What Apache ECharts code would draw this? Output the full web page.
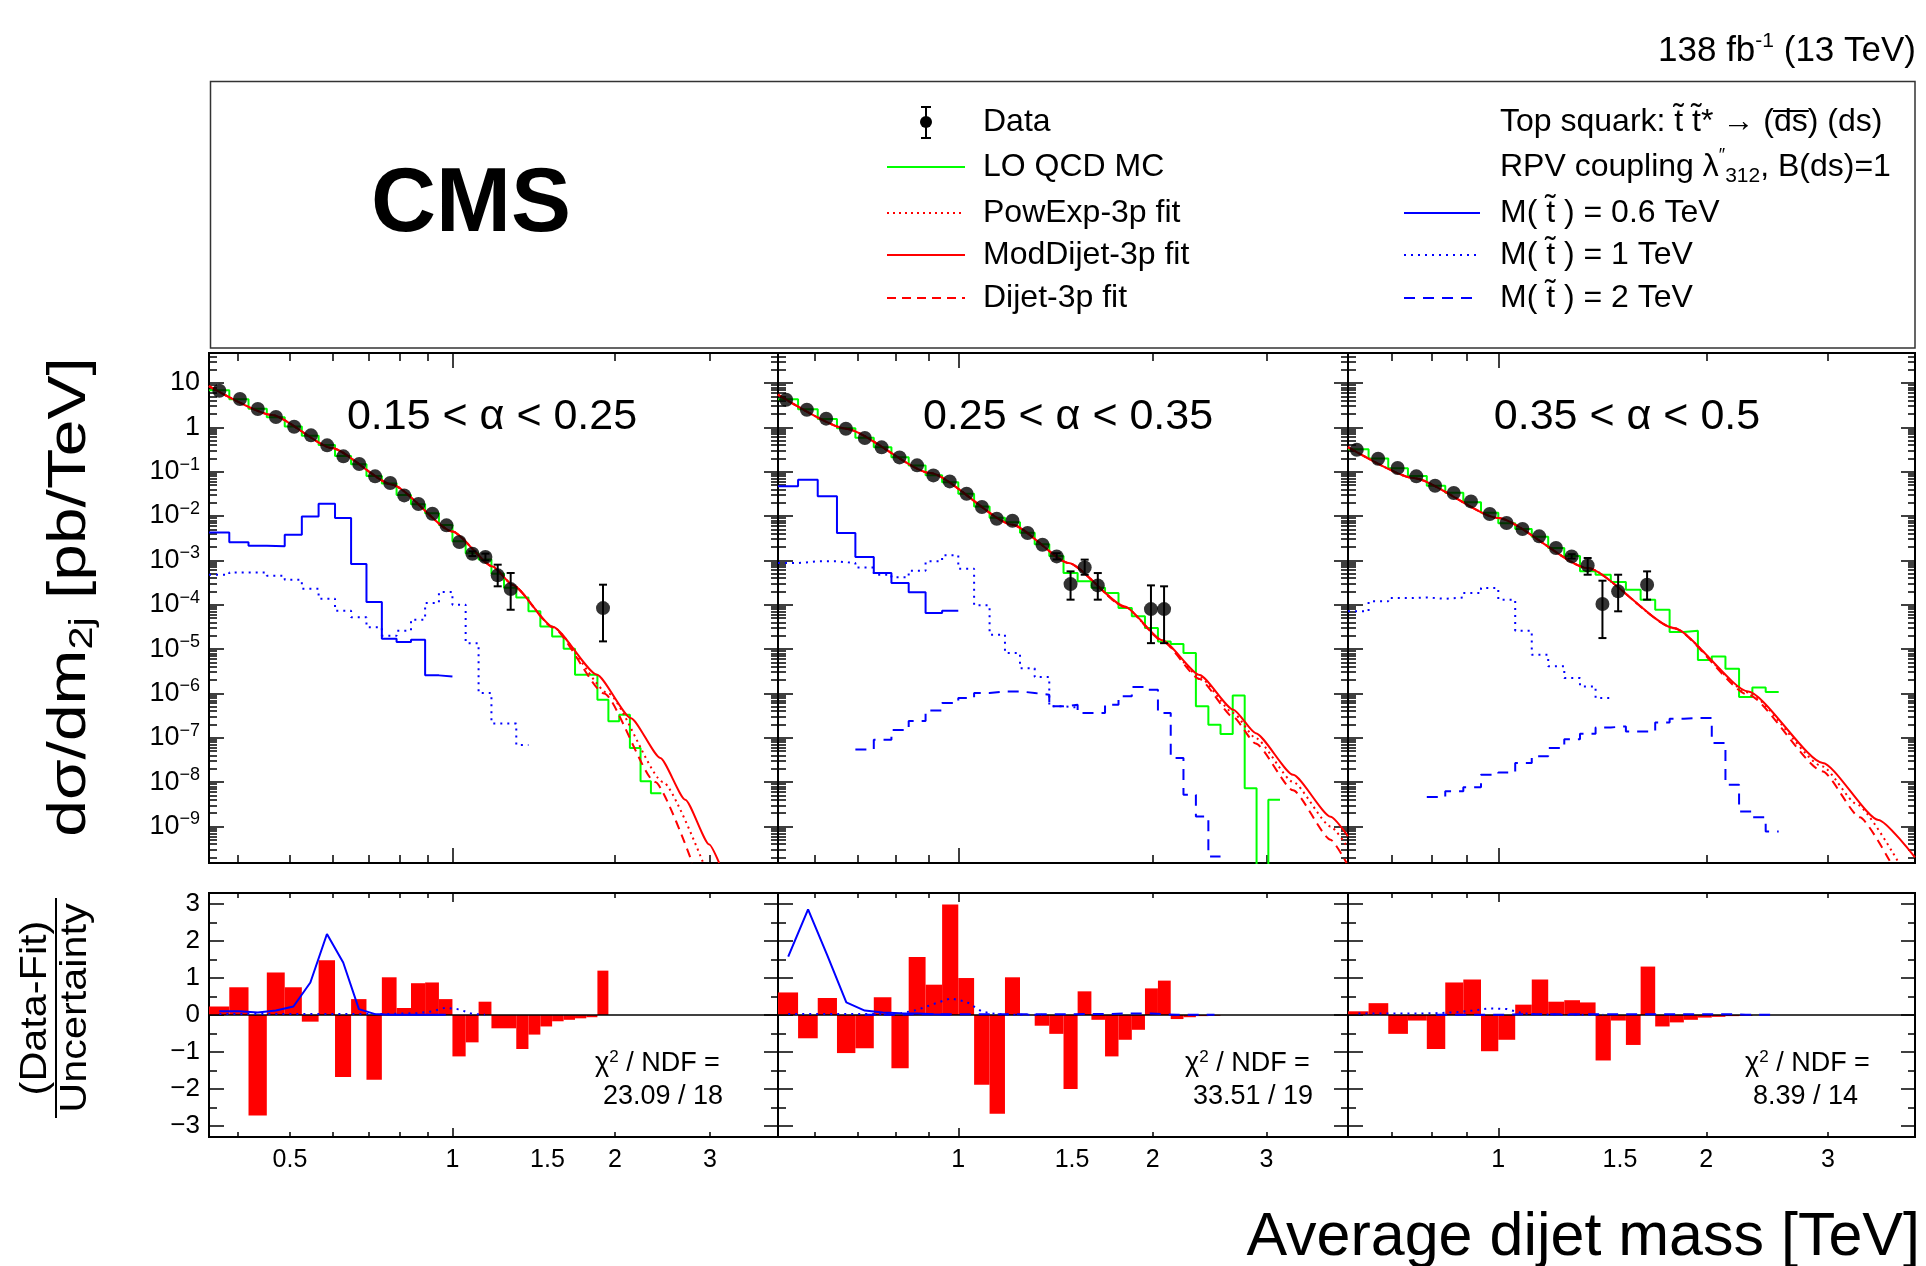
<!DOCTYPE html>
<html>
<head>
<meta charset="utf-8">
<script src="https://cdn.jsdelivr.net/npm/echarts@6/dist/echarts.min.js"></script>
<style>
  html, body { margin: 0; padding: 0; background: #fff; }
  #chart { width: 1926px; height: 1266px; }
</style>
</head>
<body>
<div id="chart"></div>
<script>
// ---------------- values ----------------
// dijet mass bin edges [TeV]
const binEdges = [0.354, 0.386, 0.419, 0.453, 0.489, 0.526, 0.565, 0.606, 0.649, 0.693,
  0.740, 0.788, 0.838, 0.890, 0.944, 1.000, 1.058, 1.118, 1.181, 1.246,
  1.313, 1.383, 1.455, 1.530, 1.607, 1.687, 1.770, 1.856, 1.945, 2.037,
  2.132, 2.231, 2.332, 2.438, 2.546, 2.659, 2.775, 2.895, 3.019, 3.147,
  3.279, 3.416, 3.558, 3.704, 3.854, 4.010];
const panelFirstBin = [0, 5, 7];
const panelTitles = ['0.15 < α < 0.25', '0.25 < α < 0.35', '0.35 < α < 0.5'];
const chi2Ndf = ['23.09 / 18', '33.51 / 19', '8.39 / 14'];

const xMajorTicks = [1];
const xMinorTicks = [0.4, 0.5, 0.6, 0.7, 0.8, 0.9, 2, 3, 4];
const xTickLabels = [0.5, 1, 1.5, 2, 3];
const yDecades = [-9, -8, -7, -6, -5, -4, -3, -2, -1, 0, 1];
const yMinorSteps = [2, 3, 4, 5, 6, 7, 8, 9];
const pullTicks = [-3, -2, -1, 0, 1, 2, 3];
const pullMinorTicks = [-2.5, -1.5, -0.5, 0.5, 1.5, 2.5];

// panel 1 : 0.15 < alpha < 0.25
const dataM1 = [0.370, 0.404, 0.436, 0.471, 0.509, 0.547, 0.586, 0.628, 0.672, 0.719, 0.767, 0.814, 0.865, 0.918, 0.975, 1.030, 1.089, 1.151, 1.213, 1.282, 1.901];
const dataY1 = [6.7, 4.36, 2.59, 1.71, 1.035, 0.66, 0.393, 0.222, 0.149, 0.0785, 0.0555, 0.0292, 0.0187, 0.0113, 0.00616, 0.0026, 0.00141, 0.00119, 4.6e-4, 2.25e-4, 8.4e-5];
const dataLo1 = [null, null, null, null, null, null, null, null, null, null, null, null, null, null, null, null, 1.25e-3, 1.0e-3, 2.6e-4, 7.7e-5, 1.49e-5];
const dataHi1 = [null, null, null, null, null, null, null, null, null, null, null, null, null, null, null, null, 1.6e-3, 1.42e-3, 8.0e-4, 5.2e-4, 2.83e-4];
const qcd1 = [6.9, 4.3, 2.62, 1.7, 1.05, 0.65, 0.40, 0.226, 0.147, 0.080, 0.054, 0.0298, 0.0185, 0.0115, 0.0063, 0.0027, 0.00145, 0.00105, 5.0e-4, 2.4e-4,
  1.46e-4, 7.1e-5, 3.24e-5, 1.93e-5, 1.02e-5, 2.64e-6, 2.64e-6, 7.2e-7, 2.34e-7, 3.3e-7, 5.9e-8, 1.04e-8, 5.6e-9];
const sig06_1 = [4.28e-3, 2.55e-3, 2.14e-3, 2.07e-3, 3.79e-3, 9.8e-3, 0.019, 9.0e-3, 8.3e-4, 1.15e-4, 1.71e-5, 1.44e-5, 1.63e-5, 2.55e-6, 2.42e-6];
const sig1_1 = [4.75e-4, 5.36e-4, 5.36e-4, 4.5e-4, 3.66e-4, 2.3e-4, 1.37e-4, 7.3e-5, 5.2e-5, 3.1e-5, 2.0e-5, 2.6e-5, 4.6e-5, 1.09e-4, 1.93e-4, 1.0e-4, 1.36e-5, 1.02e-6, 2.1e-7, 2.1e-7, 6.9e-8];
const modM1 = [0.354, 0.463, 0.598, 0.773, 1.0, 1.187, 1.293, 1.534, 1.852, 2.142, 2.427, 2.70, 2.991, 3.12];
const modY1 = [8.5, 1.9, 0.342, 0.051, 4.5e-3, 7.3e-4, 2.8e-4, 3.2e-5, 2.64e-6, 2.75e-7, 3.5e-8, 4.0e-9, 3.9e-10, 1.5e-10];
const powM1 = [0.354, 0.463, 0.598, 0.773, 1.0, 1.187, 1.293, 1.534, 1.943, 2.457, 2.915];
const powY1 = [8.5, 1.9, 0.342, 0.051, 4.5e-3, 7.3e-4, 2.8e-4, 3.15e-5, 1.0e-6, 1.0e-8, 1.5e-10];
const dijM1 = [0.354, 0.463, 0.598, 0.773, 1.0, 1.187, 1.293, 1.534, 1.91, 2.375, 2.783];
const dijY1 = [8.5, 1.9, 0.342, 0.051, 4.5e-3, 7.3e-4, 2.8e-4, 3.1e-5, 1.0e-6, 1.0e-8, 1.5e-10];
const pull1 = [0.23, 0.75, -2.72, 1.15, 0.75, -0.18, 1.48, -1.68, 0.43, -1.75, 1.02, 0.19, 0.86, 0.88, 0.43, -1.12, -0.74, 0.36, -0.36, -0.36,
  -0.92, -0.53, -0.31, -0.17, -0.13, -0.09, -0.06, 1.2];
const pullSig06_1 = [0.1, 0.1, 0.07, 0.12, 0.23, 0.88, 2.19, 1.42, 0.16, 0.03, 0.01, 0.01, 0.01, 0.01, 0.01];
const pullSig1_1 = [0.03, 0.03, 0.03, 0.03, 0.03, 0.03, 0.03, 0.03, 0.03, 0.03, 0.03, 0.04, 0.05, 0.1, 0.2, 0.15, 0.03, 0.01];

// panel 2 : 0.25 < alpha < 0.35
const dataM2 = [0.5415, 0.583, 0.6245, 0.670, 0.7167, 0.761, 0.811, 0.8635, 0.915, 0.970, 1.030, 1.088, 1.147, 1.213, 1.28, 1.35, 1.42, 1.492, 1.569, 1.644, 1.987, 2.082];
const dataY2 = [4.2, 2.5, 1.57, 0.933, 0.574, 0.354, 0.21, 0.139, 0.0826, 0.0605, 0.0319, 0.016, 0.0087, 0.00785, 0.00414, 0.00226, 0.00123, 2.92e-4, 6.95e-4, 2.73e-4, 7.97e-5, 7.97e-5];
const dataLo2 = [null, null, null, null, null, null, null, null, null, null, null, null, null, null, null, null, 1.05e-3, 1.3e-4, 4.75e-4, 1.3e-4, 1.36e-5, 1.36e-5];
const dataHi2 = [null, null, null, null, null, null, null, null, null, null, null, null, null, null, null, null, 1.45e-3, 5.65e-4, 1.04e-3, 5.18e-4, 2.73e-4, 2.6e-4];
const qcd2 = [4.3, 2.55, 1.55, 0.95, 0.58, 0.355, 0.212, 0.138, 0.083, 0.058, 0.032, 0.0165, 0.0092, 0.0072, 0.0042, 0.0023, 0.00125, 5.2e-4, 3.4e-4, 2.4e-4,
  1.83e-4, 8.4e-5, 5.5e-5, 2.98e-5, 1.49e-5, 1.3e-5, 8.1e-6, 5.1e-7, 1.96e-7, 1.21e-7, 9.0e-7, 7.3e-9, 1e-12, 4.0e-9];
const sig06_2 = [0.0467, 0.066, 0.0278, 4.14e-3, 1.19e-3, 5.18e-4, 3.08e-4, 1.9e-4, 6.5e-5, 7.3e-5];
const sig1_2 = [8.7e-4, 9.5e-4, 9.5e-4, 8.7e-4, 6.95e-4, 4.75e-4, 4.14e-4, 5.85e-4, 9.5e-4, 1.3e-3, 6.5e-4, 9.7e-5, 2.1e-5, 8.1e-6, 3.7e-6, 2.33e-6, 5.1e-7, 4.8e-7];
const sig2_2 = [5.4e-8, 9.0e-8, 1.5e-7, 2.4e-7, 4.1e-7, 6.05e-7, 7.85e-7, 1.02e-6, 1.11e-6, 1.11e-6, 1.02e-6, 9.3e-7, 5.1e-7, 5.55e-7, 3.6e-7, 3.6e-7, 5.55e-7, 8.6e-7, 1.39e-6, 1.21e-6, 3.6e-7, 3.5e-8, 5.2e-9, 1.68e-9, 2.1e-10];
const modM2 = [0.526, 0.670, 0.905, 1.213, 1.482, 1.81, 2.069, 2.363, 2.665, 2.886, 3.298, 3.769, 4.01];
const modY2 = [5.45, 0.933, 0.093, 6.4e-3, 8.7e-4, 9.1e-5, 1.58e-5, 2.6e-6, 4.3e-7, 1.27e-7, 1.46e-8, 1.66e-9, 6.0e-10];
const powM2 = [0.526, 0.670, 0.905, 1.213, 1.482, 1.81, 2.069, 2.363, 2.665, 2.886, 3.298, 3.769, 4.01];
const powY2 = [5.45, 0.933, 0.093, 6.4e-3, 8.7e-4, 9.0e-5, 1.55e-5, 2.35e-6, 3.6e-7, 9.8e-8, 1.0e-8, 1.0e-9, 3.3e-10];
const dijM2 = [0.526, 0.670, 0.905, 1.213, 1.482, 1.81, 2.069, 2.363, 2.665, 2.886, 3.298, 3.769, 3.99];
const dijY2 = [5.45, 0.933, 0.093, 6.4e-3, 8.7e-4, 8.9e-5, 1.52e-5, 2.1e-6, 2.9e-7, 7.4e-8, 6.5e-9, 5.0e-10, 1.5e-10];
const pull2 = [0.61, -0.63, 0.46, -1.03, -0.9, 0.48, -1.44, 1.57, 0.82, 2.99, 1.0, -1.89, -2.67, 1.02, 0.0, -0.29, -0.51, -2.0, 0.64, -0.13,
  -1.12, -0.67, -0.4, 0.72, 0.93, -0.11, -0.06, -0.03, -0.02];
const pullSig06_2 = [1.58, 2.86, 1.6, 0.34, 0.12, 0.07, 0.05, 0.04, 0.02, 0.01];
const pullSig1_2 = [0.03, 0.03, 0.03, 0.03, 0.03, 0.03, 0.04, 0.14, 0.3, 0.45, 0.36, 0.09, 0.02, 0.01, 0.01, 0.01];
const pullSig2_2 = [0.01, 0.01, 0.01, 0.02, 0.02, 0.02, 0.02, 0.02, 0.02, 0.02, 0.02, 0.02, 0.02, 0.02, 0.03, 0.03, 0.03, 0.04, 0.04, 0.04, 0.02, 0.01, 0.01, 0.01, 0.01];

// panel 3 : 0.35 < alpha < 0.5
const dataM3 = [0.624, 0.67, 0.715, 0.761, 0.81, 0.862, 0.913, 0.972, 1.028, 1.084, 1.146, 1.212, 1.277, 1.347, 1.415, 1.491, 1.642];
const dataY3 = [0.313, 0.196, 0.121, 0.0785, 0.0483, 0.033, 0.0214, 0.0111, 0.00695, 0.00509, 0.00348, 0.0019, 0.00123, 7.7e-4, 1.04e-4, 2.0e-4, 2.83e-4];
const dataLo3 = [null, null, null, null, null, null, null, null, null, null, null, null, 1.1e-3, 4.75e-4, 1.77e-5, 7.1e-5, 1.3e-4];
const dataHi3 = [null, null, null, null, null, null, null, null, null, null, null, null, 1.38e-3, 1.13e-3, 3.48e-4, 4.75e-4, 5.65e-4];
const qcd3 = [0.32, 0.198, 0.12, 0.08, 0.048, 0.0335, 0.0205, 0.0118, 0.0069, 0.0051, 0.0034, 0.0019, 0.00125,
  5.65e-4, 4.75e-4, 3.25e-4, 2.18e-4, 1.3e-4, 7.7e-5, 2.42e-5, 2.6e-5, 5.7e-6, 6.8e-6, 3.6e-6, 8.3e-7, 1.36e-6, 1.07e-6];
const sig1_3 = [7.1e-5, 1.19e-4, 1.41e-4, 1.46e-4, 1.36e-4, 1.46e-4, 1.83e-4, 2.38e-4, 1.3e-4, 2.6e-5, 7.4e-6, 4.07e-6, 2.22e-6, 1.44e-6, 7.85e-7];
const sig2_3 = [4.6e-9, 6.2e-9, 7.6e-9, 1.46e-8, 1.65e-8, 2.68e-8, 3.8e-8, 5.85e-8, 9.3e-8, 1.23e-7, 1.71e-7, 1.8e-7, 1.39e-7, 1.39e-7, 2.22e-7, 2.68e-7, 2.78e-7, 2.78e-7, 7.6e-8, 8.7e-9, 2.18e-9, 1.6e-9, 7.7e-10];
const modM3 = [0.606, 0.754, 1.0, 1.347, 1.796, 2.30, 2.949, 3.55, 4.01];
const modY3 = [0.36, 0.072, 9.0e-3, 6.7e-4, 2.98e-5, 1.1e-6, 2.7e-8, 1.4e-9, 2.0e-10];
const powM3 = [0.606, 0.754, 1.0, 1.347, 1.796, 2.30, 2.949, 3.3, 3.8];
const powY3 = [0.36, 0.072, 9.0e-3, 6.7e-4, 2.97e-5, 1.05e-6, 2.25e-8, 3.2e-9, 1.5e-10];
const dijM3 = [0.606, 0.754, 1.0, 1.347, 1.796, 2.30, 2.949, 3.337, 3.70];
const dijY3 = [0.36, 0.072, 9.0e-3, 6.7e-4, 2.95e-5, 9.3e-7, 1.74e-8, 1.6e-9, 1.5e-10];
const pull3 = [0.1, 0.32, -0.51, -0.15, -0.92, 0.88, 0.96, -0.98, -0.67, 0.28, 0.96, 0.36, 0.4, 0.34, -1.23, -0.15, -0.81, 1.31, -0.31, -0.2,
  -0.13, -0.07, -0.05, -0.03, -0.02];
const pullSig1_3 = [0.04, 0.04, 0.04, 0.04, 0.05, 0.07, 0.12, 0.18, 0.16, 0.04, 0.02, 0.01, 0.01, 0.01, 0.01];
const pullSig2_3 = [0.01, 0.01, 0.01, 0.01, 0.01, 0.02, 0.02, 0.02, 0.02, 0.02, 0.02, 0.02, 0.02, 0.02, 0.02, 0.02, 0.02, 0.02, 0.02, 0.02, 0.01, 0.01, 0.01];

// ---------------- layout / style ----------------
const FONT = '"Liberation Sans", Arial, Helvetica, sans-serif';
const RED = '#ff0000', GREEN = '#00ff00', BLUE = '#0000ff';
const DOT = [2, 5], DASH = [11, 8], RDOT = [2, 4], RDASH = [9, 6];
const PANELS = [{left: 209, width: 569}, {left: 778, width: 570}, {left: 1348, width: 567}];
const ROWS = [{top: 353, height: 510}, {top: 893, height: 244}];
const X_MAX = binEdges[binEdges.length - 1];
const Y_LOG_RANGE = [-9.825, 1.677];
const PULL_RANGE = [-3.3, 3.3];

const yMinorLog = [];
for (let d = -10; d <= 1; d++) yMinorSteps.forEach(m => yMinorLog.push(d + Math.log10(m)));

const grids = [], xAxes = [], yAxes = [], series = [];

function tickAxis(g, position, range, ticks, len, label) {
  return {
    type: 'value', gridIndex: g, position: position, min: range[0], max: range[1],
    axisLine: {show: false, onZero: false},
    axisTick: {show: true, inside: true, length: len, customValues: ticks, lineStyle: {color: '#000', width: 1.5}},
    axisLabel: label || {show: false},
    splitLine: {show: false}
  };
}

for (let r = 0; r < 2; r++) {
  for (let p = 0; p < 3; p++) {
    const g = r * 3 + p;
    grids.push({left: PANELS[p].left, width: PANELS[p].width, top: ROWS[r].top, height: ROWS[r].height,
      show: true, borderColor: '#000', borderWidth: 2, backgroundColor: 'transparent',
      containLabel: false, outerBoundsMode: 'none'});
    const xMin = binEdges[panelFirstBin[p]];
    const xr = [Math.log10(xMin), Math.log10(X_MAX)];
    xAxes.push({type: 'log', gridIndex: g, min: xMin, max: X_MAX, show: false});
    if (r === 0) {
      yAxes.push({type: 'log', gridIndex: g, min: Math.pow(10, Y_LOG_RANGE[0]), max: Math.pow(10, Y_LOG_RANGE[1]), show: false});
    } else {
      yAxes.push({type: 'value', gridIndex: g, min: PULL_RANGE[0], max: PULL_RANGE[1], show: false});
    }
    const xl = r === 0 ? [15, 8] : [9, 5];
    const xLab = r === 1 ? {
      show: true, customValues: xTickLabels.map(v => Math.log10(v)), margin: 11,
      formatter: v => String(+Math.pow(10, v).toPrecision(3)),
      color: '#000', fontSize: 25, fontFamily: FONT
    } : null;
    xAxes.push(tickAxis(g, 'bottom', xr, xMajorTicks.map(v => Math.log10(v)), xl[0], xLab));
    xAxes.push(tickAxis(g, 'bottom', xr, xMinorTicks.map(v => Math.log10(v)), xl[1]));
    xAxes.push(tickAxis(g, 'top', xr, xMajorTicks.map(v => Math.log10(v)), xl[0]));
    xAxes.push(tickAxis(g, 'top', xr, xMinorTicks.map(v => Math.log10(v)), xl[1]));

    const yr = r === 0 ? Y_LOG_RANGE : PULL_RANGE;
    const yMaj = r === 0 ? yDecades : pullTicks;
    const yMin = r === 0 ? yMinorLog : pullMinorTicks;
    let yLab = null;
    if (p === 0 && r === 0) {
      yLab = {
        show: true, customValues: yDecades, margin: 9,
        formatter: v => {
          const e = Math.round(v);
          if (e === 0) return '{b|1}';
          if (e === 1) return '{b|10}';
          return '{b|10}{s|\u2212' + (-e) + '}';
        },
        rich: {
          b: {fontSize: 27, fontFamily: FONT, color: '#000', lineHeight: 32},
          s: {fontSize: 18, fontFamily: FONT, color: '#000', lineHeight: 18, verticalAlign: 'top'}
        }
      };
    } else if (p === 0) {
      yLab = {
        show: true, customValues: pullTicks, margin: 9,
        formatter: v => v < 0 ? '\u2212' + (-v) : String(v),
        color: '#000', fontSize: 26, fontFamily: FONT
      };
    }
    yAxes.push(tickAxis(g, 'left', yr, yMaj, 15, yLab));
    yAxes.push(tickAxis(g, 'left', yr, yMin, 8));
    yAxes.push(tickAxis(g, 'right', yr, yMaj, 14));
    yAxes.push(tickAxis(g, 'right', yr, yMin, 7));
  }
}

// ---------------- series helpers ----------------
function hist(g, first, vals, color, dash) {
  const pts = vals.map((v, i) => [binEdges[first + i], v]);
  pts.push([binEdges[first + vals.length], vals[vals.length - 1]]);
  return {type: 'line', xAxisIndex: 5 * g, yAxisIndex: 5 * g, data: pts, step: 'end', symbol: 'none',
    clip: true, silent: true, z: 2, lineStyle: {color: color, width: 2, type: dash || 'solid'}};
}
function curve(g, xs, ys, dash) {
  return {type: 'line', xAxisIndex: 5 * g, yAxisIndex: 5 * g, data: xs.map((x, i) => [x, ys[i]]),
    smooth: 0.2, smoothMonotone: 'x', symbol: 'none', clip: true, silent: true, z: 3,
    lineStyle: {color: RED, width: 2, type: dash || 'solid'}};
}
function points(g, xs, ys) {
  return {type: 'scatter', xAxisIndex: 5 * g, yAxisIndex: 5 * g, data: xs.map((x, i) => [x, ys[i]]),
    symbol: 'circle', symbolSize: 14, itemStyle: {color: '#000'}, clip: true, silent: true, z: 6};
}
function errors(g, xs, lo, hi) {
  const d = [];
  xs.forEach((x, i) => { if (lo[i] != null) d.push([x, lo[i], hi[i]]); });
  return {type: 'custom', xAxisIndex: 5 * g, yAxisIndex: 5 * g, data: d, encode: {x: 0, y: [1, 2]},
    clip: true, silent: true, z: 5,
    renderItem: (params, api) => {
      const a = api.coord([api.value(0), api.value(1)]);
      const b = api.coord([api.value(0), api.value(2)]);
      const st = {stroke: '#000', lineWidth: 2};
      return {type: 'group', children: [
        {type: 'line', shape: {x1: a[0], y1: a[1], x2: b[0], y2: b[1]}, style: st},
        {type: 'line', shape: {x1: a[0] - 4, y1: a[1], x2: a[0] + 4, y2: a[1]}, style: st},
        {type: 'line', shape: {x1: b[0] - 4, y1: b[1], x2: b[0] + 4, y2: b[1]}, style: st}
      ]};
    }};
}
function pullBars(g, first, vals) {
  return {type: 'custom', xAxisIndex: 5 * g, yAxisIndex: 5 * g,
    data: vals.map((v, i) => [binEdges[first + i], binEdges[first + i + 1], v]),
    encode: {x: [0, 1], y: 2}, clip: true, silent: true, z: 2,
    renderItem: (params, api) => {
      const a = api.coord([api.value(0), 0]);
      const b = api.coord([api.value(1), api.value(2)]);
      return {type: 'rect', shape: {x: a[0], y: Math.min(a[1], b[1]), width: b[0] - a[0], height: Math.abs(b[1] - a[1])},
        style: {fill: RED}};
    }};
}
function pullLine(g, first, vals, dash) {
  return {type: 'line', xAxisIndex: 5 * g, yAxisIndex: 5 * g,
    data: vals.map((v, i) => [(binEdges[first + i] + binEdges[first + i + 1]) / 2, v]),
    symbol: 'none', clip: true, silent: true, z: 4, lineStyle: {color: BLUE, width: 2, type: dash || 'solid'}};
}
function zeroLine(g, xMin) {
  return {type: 'line', xAxisIndex: 5 * g, yAxisIndex: 5 * g, data: [[xMin, 0], [X_MAX, 0]],
    symbol: 'none', silent: true, z: 3, lineStyle: {color: '#000', width: 1.5}};
}

// panel 1
series.push(hist(0, 0, qcd1, GREEN), hist(0, 0, sig06_1, BLUE), hist(0, 0, sig1_1, BLUE, DOT),
  curve(0, dijM1, dijY1, RDASH), curve(0, powM1, powY1, RDOT), curve(0, modM1, modY1),
  errors(0, dataM1, dataLo1, dataHi1), points(0, dataM1, dataY1));
series.push(pullBars(3, 0, pull1), zeroLine(3, binEdges[0]), pullLine(3, 0, pullSig06_1), pullLine(3, 0, pullSig1_1, DOT));
// panel 2
series.push(hist(1, 5, qcd2, GREEN), hist(1, 5, sig06_2, BLUE), hist(1, 5, sig1_2, BLUE, DOT), hist(1, 9, sig2_2, BLUE, DASH),
  curve(1, dijM2, dijY2, RDASH), curve(1, powM2, powY2, RDOT), curve(1, modM2, modY2),
  errors(1, dataM2, dataLo2, dataHi2), points(1, dataM2, dataY2));
series.push(pullBars(4, 5, pull2), zeroLine(4, binEdges[5]), pullLine(4, 5, pullSig06_2), pullLine(4, 5, pullSig1_2, DOT), pullLine(4, 9, pullSig2_2, DASH));
// panel 3
series.push(hist(2, 7, qcd3, GREEN), hist(2, 7, sig1_3, BLUE, DOT), hist(2, 11, sig2_3, BLUE, DASH),
  curve(2, dijM3, dijY3, RDASH), curve(2, powM3, powY3, RDOT), curve(2, modM3, modY3),
  errors(2, dataM3, dataLo3, dataHi3), points(2, dataM3, dataY3));
series.push(pullBars(5, 7, pull3), zeroLine(5, binEdges[7]), pullLine(5, 7, pullSig1_3, DOT), pullLine(5, 11, pullSig2_3, DASH));

// ---------------- texts, legend ----------------
function txt(x, y, text, size, align, extra) {
  return {type: 'text', x: x, y: y, silent: true, z: 10,
    style: Object.assign({text: text, fill: '#000', fontSize: size, fontFamily: FONT,
      align: align || 'left', verticalAlign: 'middle', textAlign: align || 'left', textVerticalAlign: 'middle'}, extra || {})};
}
function seg(x1, y1, x2, y2, color, dash, w) {
  return {type: 'line', silent: true, z: 10, shape: {x1: x1, y1: y1, x2: x2, y2: y2},
    style: {stroke: color, lineWidth: w || 2, lineDash: dash || null}};
}

const graphic = [];
graphic.push({type: 'rect', silent: true, z: 1, shape: {x: 210.5, y: 81.5, width: 1704.5, height: 266.5},
  style: {fill: 'none', stroke: '#333', lineWidth: 1.5}});
graphic.push(txt(1916, 51, '{a|138 fb}{s|-1}{a| (13 TeV)}', 34, 'right', {rich: {
  a: {fontSize: 35, fontFamily: FONT, lineHeight: 40},
  s: {fontSize: 21, fontFamily: FONT, lineHeight: 21, verticalAlign: 'top'}}}));
graphic.push(txt(471, 206, 'CMS', 90, 'center', {fontWeight: 'bold'}));

const legRows = [122, 167, 213, 255, 298];
const LF = 32;
// left column
graphic.push(seg(926, 107, 926, 138, '#000', null, 2), seg(921, 107, 931, 107, '#000', null, 2), seg(921, 138, 931, 138, '#000', null, 2));
graphic.push({type: 'circle', silent: true, z: 10, shape: {cx: 926, cy: 122, r: 6}, style: {fill: '#000'}});
graphic.push(txt(983, legRows[0], 'Data', LF));
graphic.push(seg(887, legRows[1], 965, legRows[1], GREEN), txt(983, legRows[1], 'LO QCD MC', LF));
graphic.push(seg(887, legRows[2], 965, legRows[2], RED, RDOT), txt(983, legRows[2], 'PowExp-3p fit', LF));
graphic.push(seg(887, legRows[3], 965, legRows[3], RED), txt(983, legRows[3], 'ModDijet-3p fit', LF));
graphic.push(seg(887, legRows[4], 965, legRows[4], RED, RDASH), txt(983, legRows[4], 'Dijet-3p fit', LF));
// right column
graphic.push(txt(1500, legRows[0], 'Top squark: t\u0303 t\u0303* \u2192 (d\u0305s\u0305) (ds)', LF));
graphic.push(txt(1500, legRows[1], '{a|RPV coupling \u03bb}{p|\u2033}{u|312}{a|, B(ds)=1}', LF, 'left', {rich: {
  a: {fontSize: LF, fontFamily: FONT, lineHeight: 40},
  p: {fontSize: 18, fontFamily: FONT, lineHeight: 18, verticalAlign: 'top'},
  u: {fontSize: 21, fontFamily: FONT, lineHeight: 21, verticalAlign: 'bottom'}}}));
graphic.push(seg(1404, legRows[2], 1480, legRows[2], BLUE), txt(1500, legRows[2], 'M( t\u0303 ) = 0.6 TeV', LF));
graphic.push(seg(1404, legRows[3], 1480, legRows[3], BLUE, DOT), txt(1500, legRows[3], 'M( t\u0303 ) = 1 TeV', LF));
graphic.push(seg(1404, legRows[4], 1480, legRows[4], BLUE, DASH), txt(1500, legRows[4], 'M( t\u0303 ) = 2 TeV', LF));

// panel titles and chi2
const titleX = [492, 1068, 1627];
const chiX = [595, 1185, 1745];
for (let p = 0; p < 3; p++) {
  graphic.push(txt(titleX[p], 417, panelTitles[p], 43, 'center'));
  graphic.push(txt(chiX[p], 1064, '{a|\u03c7}{s|2}{a| / NDF =}', 27, 'left', {rich: {
    a: {fontSize: 27, fontFamily: FONT, lineHeight: 30},
    s: {fontSize: 17, fontFamily: FONT, lineHeight: 17, verticalAlign: 'top'}}}));
  graphic.push(txt(chiX[p] + 8, 1097, chi2Ndf[p], 27));
}

// axis titles
graphic.push(txt(1920, 1238, 'Average dijet mass [TeV]', 61, 'right'));
graphic.push(Object.assign(txt(70, 597, '{m|d\u03c3/dm}{s|2j}{m| [pb/TeV]}', 54, 'center', {rich: {
  m: {fontSize: 54, fontFamily: FONT, lineHeight: 60},
  s: {fontSize: 34, fontFamily: FONT, lineHeight: 34, verticalAlign: 'bottom'}}}), {rotation: Math.PI / 2, scaleX: 1.22}));
graphic.push(Object.assign(txt(36, 1008, '(Data-Fit)', 36, 'center'), {rotation: Math.PI / 2, scaleX: 1.15}));
graphic.push(seg(56, 1008 - 110, 56, 1008 + 110, '#000', null, 2));
graphic.push(Object.assign(txt(76, 1008, 'Uncertainty', 36, 'center'), {rotation: Math.PI / 2, scaleX: 1.15}));

const chart = echarts.init(document.getElementById('chart'));
chart.setOption({
  animation: false,
  backgroundColor: '#fff',
  textStyle: {fontFamily: FONT},
  grid: grids,
  xAxis: xAxes,
  yAxis: yAxes,
  series: series,
  graphic: {elements: graphic}
});
</script>
</body>
</html>
